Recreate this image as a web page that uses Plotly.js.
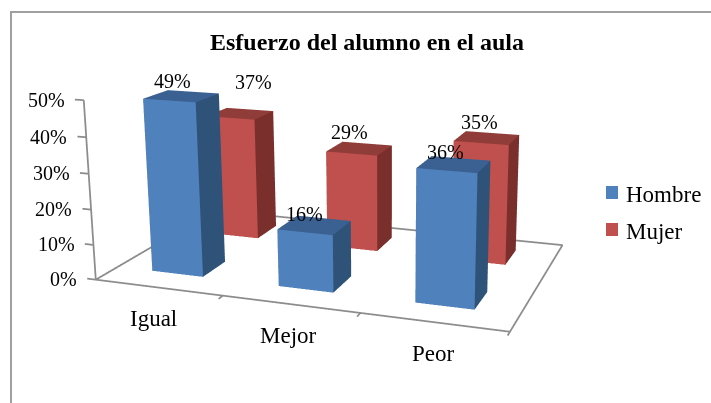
<!DOCTYPE html>
<html><head><meta charset="utf-8"><script src="https://cdn.plot.ly/plotly-3.0.1.min.js"></script></head>
<body style="margin:0;background:#fff;overflow:hidden"><div id="c" style="position:absolute;left:-91px;top:-300px;width:950px;height:950px"></div>
<script>
const categories=['Igual','Mejor','Peor'];
const seriesNames=['Hombre','Mujer'];
const hombre=[49,16,36];
const mujer=[37,29,35];
const zTicks=[0,10,20,30,40,50];
const zTickLabels=['0%','10%','20%','30%','40%','50%'];
const colors=[{front:'#4f81bd',side:'#2f5279',top:'#3a6191'},{front:'#c0504d',side:'#7a2f2d',top:'#903c39'}];
const barX0=[.285,.275],barW=.41,barY0=[.32,1.35],barD=.38;
const labelShift=[{dx:[-9,-10,-8],dy:[15,11,12]},{dx:[13,-10,-7],dy:[32,16,16]}];
const catShift=[-5,-2,0];
function box(x0,y0,w,d,h,c){
 const faces=[c.front,c.front,c.side,c.side,c.top,c.top,c.side,c.side,c.side,c.side,c.side,c.side];
 return {type:'mesh3d',x:[x0,x0+w,x0+w,x0,x0,x0+w,x0+w,x0],y:[y0,y0,y0+d,y0+d,y0,y0,y0+d,y0+d],z:[0,0,0,0,h,h,h,h],
  i:[0,0,1,1,4,4,0,0,2,2,3,3],j:[1,5,2,6,5,6,3,7,3,7,0,4],k:[5,4,6,5,6,7,7,4,7,6,4,7],
  facecolor:faces,flatshading:true,lighting:{ambient:1,diffuse:0,specular:0,roughness:1,fresnel:0},hoverinfo:'skip',showscale:false};
}
const lineC='#8c8c8c';
function line(x,y,z){return {type:'scatter3d',mode:'lines',x,y,z,line:{color:lineC,width:3.5},hoverinfo:'skip',showlegend:false};}
const traces=[];
traces.push(line([0,3,3,0,0],[0,0,2,2,0],[0,0,0,0,0]));
traces.push(line([0,0],[0,0],[0,50]));
zTicks.forEach(z=>traces.push(line([-.07,0],[0,0],[z,z])));
[1,2,3].forEach(x=>traces.push(line([x,x],[-.07,0],[0,0])));
categories.forEach((c,i)=>{
 traces.push(box(i+barX0[1],barY0[1],barW,barD,mujer[i],colors[1]));
 traces.push(box(i+barX0[0],barY0[0],barW,barD,hombre[i],colors[0]));
});
const f={family:'Liberation Serif',color:'#000',size:20};
const fBig={family:'Liberation Serif',color:'#000',size:23};
const ann=[];
zTicks.forEach((z,i)=>ann.push({x:-.07,y:0,z:z,text:zTickLabels[i],showarrow:false,xanchor:'right',xshift:-8,font:f}));
categories.forEach((c,i)=>ann.push({x:i+.5,y:0,z:0,text:c,showarrow:false,yshift:-31,xshift:catShift[i],font:fBig}));
categories.forEach((c,i)=>{
 ann.push({x:i+barX0[0]+barW/2,y:barY0[0]+barD/2,z:hombre[i],text:hombre[i]+'%',showarrow:false,xshift:labelShift[0].dx[i],yshift:labelShift[0].dy[i],font:f});
 ann.push({x:i+barX0[1]+barW/2,y:barY0[1]+barD/2,z:mujer[i],text:mujer[i]+'%',showarrow:false,xshift:labelShift[1].dx[i],yshift:labelShift[1].dy[i],font:f});
});
const L=91,T=300,S=950;
const px=x=>(x+L)/S, py=y=>1-(y+T)/S;
const rect=(x0,y0,x1,y1,c)=>({type:'rect',xref:'paper',yref:'paper',x0:px(x0),x1:px(x1),y0:py(y0),y1:py(y1),fillcolor:c,line:{width:0}});
const layout={width:950,height:950,margin:{l:0,r:0,t:0,b:0},paper_bgcolor:'#fff',showlegend:false,
 shapes:[rect(606,186,618,199,colors[0].front),rect(606,223,618,236,colors[1].front),
  rect(10,11,12,403,'#a0a0a0'),rect(10,11,711,13,'#a0a0a0')],
 annotations:[
  {xref:'paper',yref:'paper',x:px(367),y:py(42),text:'<b>Esfuerzo del alumno en el aula</b>',showarrow:false,font:{family:'Liberation Serif',size:24,color:'#000'}},
  {xref:'paper',yref:'paper',x:px(624),y:py(195),xanchor:'left',text:seriesNames[0],showarrow:false,font:fBig},
  {xref:'paper',yref:'paper',x:px(624),y:py(231),xanchor:'left',text:seriesNames[1],showarrow:false,font:fBig}],
 scene:{domain:{x:[0,1],y:[0,1]},aspectmode:'manual',aspectratio:{x:1.0667,y:.6787,z:.432},
  camera:{eye:{x:.971,y:-2.52,z:.708},center:{x:.134,y:-.052,z:.030},up:{x:0,y:0,z:1},projection:{type:'perspective'}},
  annotations:ann,
  xaxis:{range:[-.1,3.1],visible:false},yaxis:{range:[-.1,2.1],visible:false},zaxis:{range:[0,50],visible:false}}};
Plotly.newPlot('c',traces,layout,{displayModeBar:false});
</script></body></html>
